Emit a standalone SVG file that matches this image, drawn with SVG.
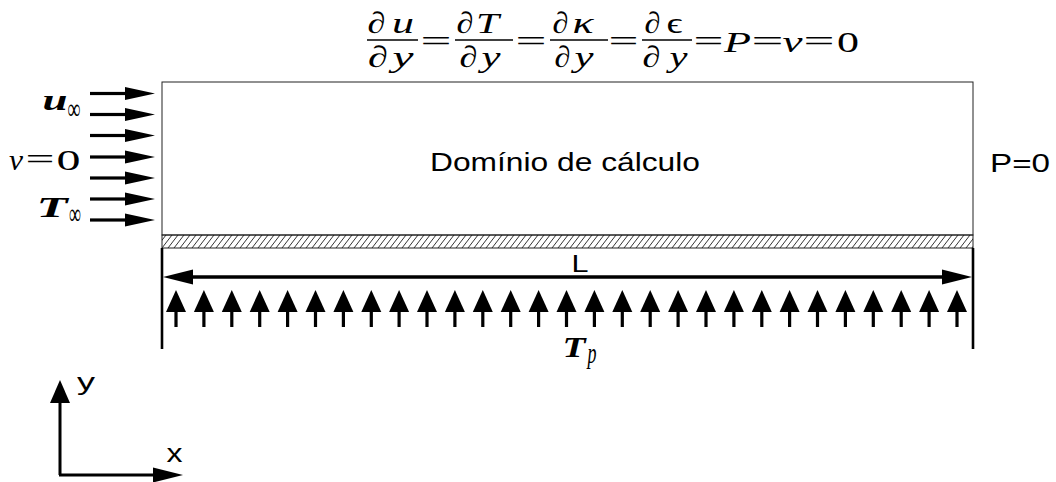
<svg xmlns="http://www.w3.org/2000/svg" width="1056" height="482" viewBox="0 0 1056 482">
<style>
.m{font-family:"Liberation Serif","Times New Roman",serif;font-size:30px;fill:#000;text-anchor:middle}
.i{font-style:italic}
.b{font-weight:bold}
.s{font-family:"Liberation Sans",Arial,sans-serif;fill:#000}
.bar{stroke:#000;stroke-width:1.6}
.thick{stroke:#000;stroke-width:3;fill:none}
</style>
<defs>
<pattern id="hatch" patternUnits="userSpaceOnUse" width="6" height="13" x="162" y="235">
<path d="M-6,13 L4,0 M0,13 L10,0 M6,13 L16,0" stroke="#000" stroke-width="0.8" fill="none"/>
</pattern>
<g id="up"><path d="M0,0 L10,22 L-10,22 Z" fill="#000"/><rect x="-1.6" y="22" width="3.2" height="15" fill="#000"/></g>
<g id="right"><rect x="-65" y="-1.6" width="36" height="3.2" fill="#000"/><path d="M0,0 L-30,-6.5 L-30,6.5 Z" fill="#000"/></g>
</defs>
<rect width="1056" height="482" fill="#fff"/>

<g id="equation">
<text class="m" x="376.5" y="33" textLength="18" lengthAdjust="spacingAndGlyphs">∂</text>
<text class="m i" x="403" y="33" textLength="22" lengthAdjust="spacingAndGlyphs">u</text>
<line class="bar" x1="367" y1="40" x2="418" y2="40"/>
<text class="m" x="378" y="67" textLength="20" lengthAdjust="spacingAndGlyphs">∂</text>
<text class="m i" x="403" y="67" textLength="21" lengthAdjust="spacingAndGlyphs">y</text>
<text class="m" x="436" y="51" textLength="31" lengthAdjust="spacingAndGlyphs">=</text>

<text class="m" x="465" y="33" textLength="17" lengthAdjust="spacingAndGlyphs">∂</text>
<text class="m i" x="487.5" y="33" textLength="23" lengthAdjust="spacingAndGlyphs">T</text>
<line class="bar" x1="455" y1="40" x2="513" y2="40"/>
<text class="m" x="468.5" y="67" textLength="18" lengthAdjust="spacingAndGlyphs">∂</text>
<text class="m i" x="491" y="67" textLength="19" lengthAdjust="spacingAndGlyphs">y</text>
<text class="m" x="531" y="51" textLength="31" lengthAdjust="spacingAndGlyphs">=</text>

<text class="m" x="560.5" y="33" textLength="16" lengthAdjust="spacingAndGlyphs">∂</text>
<text class="m i" x="583" y="33" textLength="21" lengthAdjust="spacingAndGlyphs">κ</text>
<line class="bar" x1="550" y1="40" x2="608" y2="40"/>
<text class="m" x="562.5" y="67" textLength="16" lengthAdjust="spacingAndGlyphs">∂</text>
<text class="m i" x="584" y="67" textLength="19" lengthAdjust="spacingAndGlyphs">y</text>
<text class="m" x="623.5" y="51" textLength="30" lengthAdjust="spacingAndGlyphs">=</text>

<text class="m" x="652.5" y="33" textLength="16" lengthAdjust="spacingAndGlyphs">∂</text>
<text class="m" x="674.5" y="33" textLength="16" lengthAdjust="spacingAndGlyphs">ϵ</text>
<line class="bar" x1="642" y1="40" x2="692" y2="40"/>
<text class="m" x="651.5" y="67" textLength="18" lengthAdjust="spacingAndGlyphs">∂</text>
<text class="m i" x="678.5" y="67" textLength="18" lengthAdjust="spacingAndGlyphs">y</text>
<text class="m" x="708.5" y="51" textLength="30" lengthAdjust="spacingAndGlyphs">=</text>

<text class="m i" x="737.5" y="52" textLength="27" lengthAdjust="spacingAndGlyphs">P</text>
<text class="m" x="767.5" y="51" textLength="32" lengthAdjust="spacingAndGlyphs">=</text>
<text class="m i" x="792.5" y="52" textLength="20" lengthAdjust="spacingAndGlyphs">v</text>
<text class="m" x="819" y="51" textLength="31" lengthAdjust="spacingAndGlyphs">=</text>
<text class="m" x="848" y="52" textLength="22" lengthAdjust="spacingAndGlyphs">0</text>
</g>

<g id="domain">
<rect x="162" y="82" width="811" height="153" fill="#fff" stroke="#222" stroke-width="1"/>
<text class="s" x="430" y="171" font-size="26" textLength="270" lengthAdjust="spacingAndGlyphs">Domínio de cálculo</text>
</g>

<g id="wall">
<rect x="162" y="235" width="811" height="13" fill="url(#hatch)" stroke="#222" stroke-width="1"/>
</g>

<g id="inlet-labels">
<text class="m i b" x="55" y="110" font-size="26" textLength="25" lengthAdjust="spacingAndGlyphs">u</text>
<text class="m" x="74" y="119" font-size="16" textLength="13" lengthAdjust="spacingAndGlyphs">∞</text>
<text class="m i" x="16" y="170" font-size="29" textLength="14" lengthAdjust="spacingAndGlyphs">v</text>
<text class="m" x="40" y="169" font-size="29" textLength="29" lengthAdjust="spacingAndGlyphs">=</text>
<text class="m" x="68.5" y="170" font-size="29" textLength="24" lengthAdjust="spacingAndGlyphs">0</text>
<text class="m i b" x="52" y="217" font-size="22" textLength="31" lengthAdjust="spacingAndGlyphs">T</text>
<text class="m" x="75" y="224" font-size="16" textLength="12" lengthAdjust="spacingAndGlyphs">∞</text>
</g>

<g id="outlet-label">
<text class="s" x="990" y="172" font-size="26" textLength="60" lengthAdjust="spacingAndGlyphs">P=0</text>
</g>

<g id="length-label">
<text class="s" x="580" y="272" font-size="23" text-anchor="middle" textLength="17" lengthAdjust="spacingAndGlyphs">L</text>
</g>

<g id="tp-label">
<text class="m i b" x="574" y="357" font-size="22" textLength="23" lengthAdjust="spacingAndGlyphs">T</text>
<text class="m i" x="592" y="363" font-size="15" textLength="9" lengthAdjust="spacingAndGlyphs">p</text>
</g>

<g id="axes">
<path d="M60,475 L60,402 M59,475 L155,475" class="thick"/>
<path d="M60,380 L70,403 L50,403 Z" fill="#000"/>
<path d="M183,475 L153,467.5 L153,482.5 Z" fill="#000"/>
<text class="s" x="86" y="390" font-size="24" text-anchor="middle" textLength="18" lengthAdjust="spacingAndGlyphs">y</text>
<text class="s" x="174.5" y="462" font-size="26" text-anchor="middle" textLength="16" lengthAdjust="spacingAndGlyphs">x</text>
</g>

<g id="connectors">
<g id="inflow-arrows">
<use href="#right" x="155" y="93.5"/>
<use href="#right" x="155" y="114.5"/>
<use href="#right" x="155" y="135.5"/>
<use href="#right" x="155" y="157"/>
<use href="#right" x="155" y="178"/>
<use href="#right" x="155" y="199"/>
<use href="#right" x="155" y="220"/>
</g>
<g id="side-lines">
<line x1="162" y1="248" x2="162" y2="349" stroke="#000" stroke-width="2.6"/>
<line x1="973" y1="248" x2="973" y2="349" stroke="#000" stroke-width="2.6"/>
</g>
<g id="dimension-L">
<line x1="190" y1="277" x2="945" y2="277" stroke="#000" stroke-width="3.4"/>
<path d="M163,277 L193,269.5 L193,284.5 Z" fill="#000"/>
<path d="M972,277 L942,269.5 L942,284.5 Z" fill="#000"/>
</g>
<g id="heat-arrows">
<use href="#up" x="176" y="290"/>
<use href="#up" x="203.9" y="290"/>
<use href="#up" x="231.8" y="290"/>
<use href="#up" x="259.7" y="290"/>
<use href="#up" x="287.6" y="290"/>
<use href="#up" x="315.5" y="290"/>
<use href="#up" x="343.4" y="290"/>
<use href="#up" x="371.3" y="290"/>
<use href="#up" x="399.1" y="290"/>
<use href="#up" x="427" y="290"/>
<use href="#up" x="454.9" y="290"/>
<use href="#up" x="482.8" y="290"/>
<use href="#up" x="510.7" y="290"/>
<use href="#up" x="538.6" y="290"/>
<use href="#up" x="566.5" y="290"/>
<use href="#up" x="594.4" y="290"/>
<use href="#up" x="622.3" y="290"/>
<use href="#up" x="650.2" y="290"/>
<use href="#up" x="678.1" y="290"/>
<use href="#up" x="706" y="290"/>
<use href="#up" x="733.9" y="290"/>
<use href="#up" x="761.8" y="290"/>
<use href="#up" x="789.6" y="290"/>
<use href="#up" x="817.5" y="290"/>
<use href="#up" x="845.4" y="290"/>
<use href="#up" x="873.3" y="290"/>
<use href="#up" x="901.2" y="290"/>
<use href="#up" x="929.1" y="290"/>
<use href="#up" x="957" y="290"/>
</g>
</g>
</svg>
